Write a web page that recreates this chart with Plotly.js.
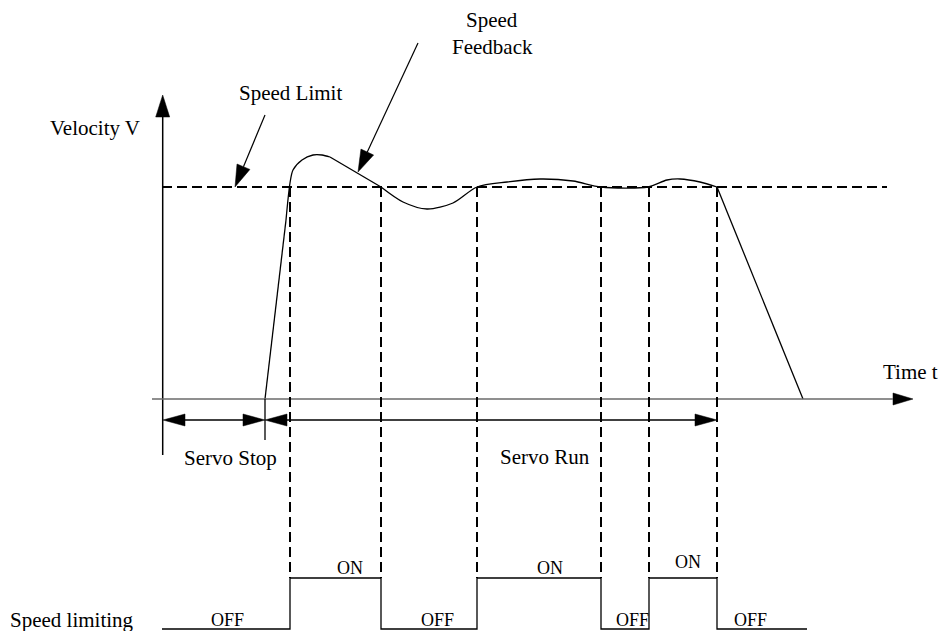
<!DOCTYPE html>
<html><head><meta charset="utf-8">
<script src="https://cdn.plot.ly/plotly-3.0.1.min.js"></script>
<style>html,body{margin:0;padding:0;background:#fff}#chart{width:940px;height:631px}</style>
</head><body><div id="chart"></div>
<script>
// ---- diagram data (time axis units, velocity axis units) ----
const curveT = [265,286,290,293,302,313,322,330,381,403,427,453,477,507,540,573,601,648,667,680,700,717,803];
const curveV = [399,220,183,170,160,155,155,157,187,202,209,203,187,182,179,181,187,187,180,179,182,187,399];
// how each stretch of the curve is drawn: [start index, end index, line shape]
const curvePieces = [[0,1,'linear'],[1,7,'spline'],[7,8,'linear'],[8,21,'spline'],[21,22,'linear']];
const limitV = 187;
const limitT = [162, 887];
const zeroV = 399;
const timeAxisT = [152, 913];
const velAxisV = [455, 95];
const velAxisT = 162.7;
const switchT = [162,290,381,477,601,649,717,807];
const switchLevel = [629,578,629,578,629,578,629,629];
const switchOn = 578;
const edgeT = [290,381,477,601,649,717];
const stateLabels = ['OFF','ON','OFF','ON','OFF','ON','OFF'];
const stateLabelT = [227,350,437,550,632,688,750];
const stateLabelY = [620,568,620,568,620,562,620];
const servoStopT = [163,265];
const servoRunT = [265,717];
const servoArrowV = 420;
const servoMarkV = [399,440];
const calloutLimit = [265,115,235,187];
const calloutFeedback = [418,43,358,172];

const serif = 'Liberation Serif, Times New Roman, serif';
const shapes = [];
const annotations = [];

function seg(x0,y0,x1,y1,color,width,dash){
  shapes.push({type:'line',xref:'x',yref:'y',x0:x0,y0:y0,x1:x1,y1:y1,
    line:{color:color,width:width,dash:dash||'solid'}});
}
function head(tx,ty,fx,fy,L,W,color){
  const dx=tx-fx, dy=ty-fy, d=Math.hypot(dx,dy), ux=dx/d, uy=dy/d;
  const bx=tx-ux*L, by=ty-uy*L, px=-uy*W, py=ux*W;
  shapes.push({type:'path',xref:'x',yref:'y',
    path:`M${tx},${ty}L${bx+px},${by+py}L${bx-px},${by-py}Z`,
    fillcolor:color||'#000',line:{color:color||'#000',width:0.5}});
  return [bx,by];
}
function arrow(fx,fy,tx,ty,L,W,width,color){
  const b=head(tx,ty,fx,fy,L,W,'#000');
  seg(fx,fy,b[0],b[1],color||'#000',width);
}
function dblArrow(x0,x1,y,L,W){
  head(x0,y,x1,y,L,W); head(x1,y,x0,y,L,W);
  seg(x0+L,y,x1-L,y,'#000',1.4);
}
function label(txt,x,y,size,xanchor,family){
  annotations.push({text:txt,x:x,y:y,xref:'x',yref:'y',showarrow:false,
    xanchor:xanchor||'center',yanchor:'middle',
    font:{family:family||serif,size:size||21,color:'#000'}});
}

// axes
arrow(velAxisT, velAxisV[0], velAxisT, velAxisV[1], 22, 7, 1.5);
arrow(timeAxisT[0], zeroV, timeAxisT[1], zeroV, 20, 6, 1.7, '#6a6a6a');
// speed limit
seg(limitT[0], limitV, limitT[1], limitV, '#000', 2, '10px,5px');
// switching edges
edgeT.forEach(t => seg(t, limitV, t, switchOn, '#000', 2, '10px,5px'));
// servo arrows
seg(servoStopT[1], servoMarkV[0], servoStopT[1], servoMarkV[1], '#000', 1.3);
dblArrow(servoStopT[0], servoStopT[1], servoArrowV, 22, 6);
dblArrow(servoRunT[0], servoRunT[1], servoArrowV, 22, 6);
// callouts
arrow(calloutLimit[0],calloutLimit[1],calloutLimit[2],calloutLimit[3],22,7,1.2);
arrow(calloutFeedback[0],calloutFeedback[1],calloutFeedback[2],calloutFeedback[3],22,7,1.2);

// labels
label('Velocity V', 142, 128, 21, 'right');
label('Speed Limit', 290, 93);
label('Speed', 492, 20);
label('Feedback', 492, 47);
label('Time t', 910, 372);
label('Servo Stop', 230, 458);
label('Servo Run', 545, 457);
label('Speed limiting', 8, 620, 21, 'left');
stateLabels.forEach((s,i)=>label(s, stateLabelT[i], stateLabelY[i], 18));

const traces = curvePieces.map(p => ({
  x: curveT.slice(p[0], p[1]+1), y: curveV.slice(p[0], p[1]+1), mode:'lines',
  line:{color:'#000', width:1.3, shape:p[2], smoothing:0.8}, hoverinfo:'skip'
}));
traces.push({x:switchT, y:switchLevel, mode:'lines', line:{color:'#000', width:1.3, shape:'hv'}, hoverinfo:'skip'});

const layout = {
  width:940, height:631, margin:{l:0,r:0,t:0,b:0},
  paper_bgcolor:'#fff', plot_bgcolor:'#fff', showlegend:false,
  xaxis:{range:[0,940], visible:false, fixedrange:true},
  yaxis:{range:[631,0], visible:false, fixedrange:true},
  shapes:shapes, annotations:annotations
};
Plotly.newPlot('chart', traces, layout, {staticPlot:true, displayModeBar:false});
</script></body></html>
